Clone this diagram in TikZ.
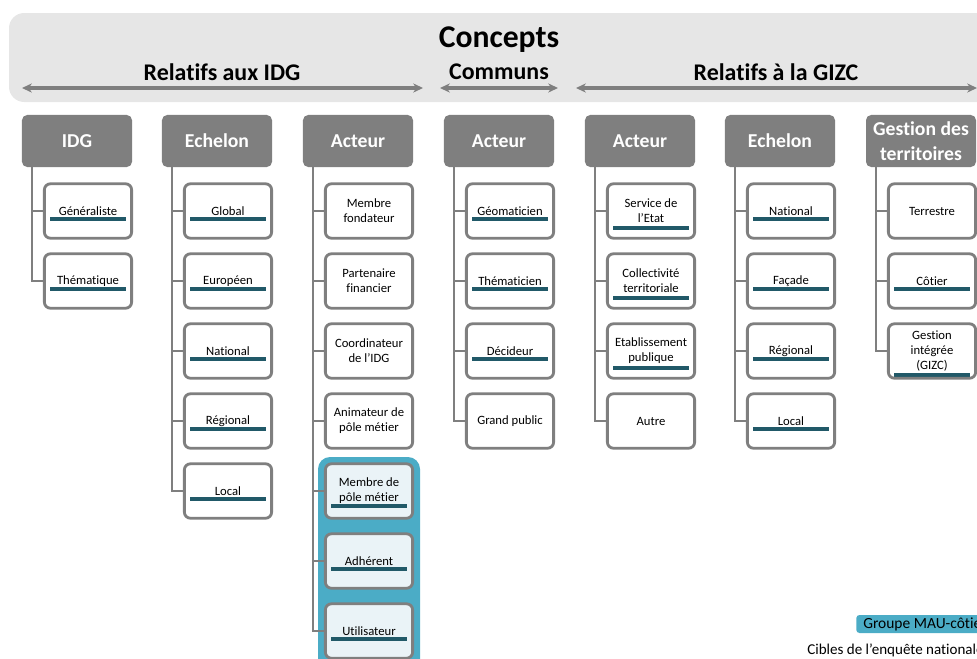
\documentclass[tikz,border=0pt]{standalone}
\usepackage{fontspec}
\setmainfont[Ligatures=NoCommon]{Carlito}
\usepackage{xcolor}
\usetikzlibrary{arrows.meta}
\definecolor{gristitre}{RGB}{127,127,127}
\definecolor{grisfond}{RGB}{230,230,230}
\definecolor{bleumau}{RGB}{75,172,198}
\definecolor{bleupale}{RGB}{234,243,247}
\definecolor{sarcelle}{RGB}{33,89,104}

\begin{document}
\begin{tikzpicture}[x=0.025cm,y=-0.025cm,>={Stealth[length=7pt,width=6.5pt]},
  titre/.style={fill=gristitre,rounded corners=0.13cm,minimum width=2.75cm,
    minimum height=1.3cm,align=center,text=white,inner sep=1pt,
    font=\fontsize{14}{17.5}\selectfont\bfseries},
  cible/.style={draw=gristitre,fill=white,line width=2pt,rounded corners=0.15cm,
    minimum width=2.18cm,minimum height=1.36cm,align=center,inner sep=1pt,
    font=\fontsize{9}{10.6}\selectfont},
  mau/.style={cible,fill=bleupale},
  souligne/.style={path picture={\fill[sarcelle,draw=none,sharp corners]
    ([xshift=-0.95cm,yshift=-#1]path picture bounding box.center) rectangle
    ([xshift=0.95cm,yshift=-#1-0.1cm]path picture bounding box.center);}},
  souligne/.default=0.15cm,
  groupe/.style={font=\fontsize{17}{20}\selectfont\bfseries},
  lien/.style={draw=gristitre,line width=2pt},
  fleche/.style={<->,gristitre,line width=2.2pt}]
  \useasboundingbox (0,0) rectangle (977,658);
  \clip (0,0) rectangle (977,658);
  % bandeau des concepts
  \fill[grisfond,rounded corners=0.38cm] (9,13) rectangle (1010,102);
  \node[font=\fontsize{22.5}{26}\selectfont\bfseries] (concepts) at (499,40) {Concepts};
  \node[groupe] (relidg) at (222,72) {Relatifs aux IDG};
  \node[groupe] (communs) at (499,72) {Communs};
  \node[groupe] (relgizc) at (776,72) {Relatifs à la GIZC};
  \coordinate (a1) at (22,88);  \coordinate (a2) at (423,88);
  \coordinate (b1) at (440,88); \coordinate (b2) at (558,88);
  \coordinate (g1) at (576,88); \coordinate (g2) at (977,88);
  \draw[fleche] (a1) -- (a2);
  \draw[fleche] (b1) -- (b2);
  \draw[fleche] (g1) -- (g2);
  % groupe MAU-cotier (fond bleu)
  \fill[bleumau,rounded corners=0.3cm] (318,457) rectangle (420,700);
  % en-tetes
  \node[titre] (h1) at (77,141) {IDG};
  \node[titre] (h2) at (217,141) {Echelon};
  \node[titre] (h3) at (358,141) {Acteur};
  \node[titre] (h4) at (499,141) {Acteur};
  \node[titre] (h5) at (640,141) {Acteur};
  \node[titre] (h6) at (780,141) {Echelon};
  \node[titre] (h7) at (921,141) {Gestion des\\territoires};
  % IDG
  \node[cible,souligne] (idg1) at (88,211) {Généraliste};
  \node[cible,souligne] (idg2) at (88,281) {Thématique};
  % Echelon (IDG)
  \node[cible,souligne] (ech1) at (228,211) {Global};
  \node[cible,souligne] (ech2) at (228,281) {Européen};
  \node[cible,souligne] (ech3) at (228,351) {National};
  \node[cible,souligne] (ech4) at (228,421) {Régional};
  \node[cible,souligne] (ech5) at (228,491) {Local};
  % Acteur (IDG)
  \node[cible] (act1) at (369,211) {Membre\\fondateur};
  \node[cible] (act2) at (369,281) {Partenaire\\financier};
  \node[cible] (act3) at (369,351) {Coordinateur\\de l’IDG};
  \node[cible] (act4) at (369,421) {Animateur de\\pôle métier};
  \node[mau,souligne=0.33cm] (act5) at (369,491) {Membre de\\pôle métier};
  \node[mau,souligne] (act6) at (369,561) {Adhérent};
  \node[mau,souligne] (act7) at (369,631) {Utilisateur};
  % Acteur (communs)
  \node[cible,souligne] (com1) at (510,211) {Géomaticien};
  \node[cible,souligne] (com2) at (510,281) {Thématicien};
  \node[cible,souligne] (com3) at (510,351) {Décideur};
  \node[cible] (com4) at (510,421) {Grand public};
  % Acteur (GIZC)
  \node[cible,souligne=0.375cm] (acg1) at (651,211) {Service de\\l’Etat};
  \node[cible,souligne=0.375cm] (acg2) at (651,281) {Collectivité\\territoriale};
  \node[cible,souligne=0.375cm] (acg3) at (651,351) {Etablissement\\publique};
  \node[cible] (acg4) at (651,421) {Autre};
  % Echelon (GIZC)
  \node[cible,souligne] (ecg1) at (791,211) {National};
  \node[cible,souligne] (ecg2) at (791,281) {Façade};
  \node[cible,souligne] (ecg3) at (791,351) {Régional};
  \node[cible,souligne] (ecg4) at (791,421) {Local};
  % Gestion des territoires
  \node[cible] (ges1) at (932,211) {Terrestre};
  \node[cible,souligne] (ges2) at (932,281) {Côtier};
  \node[cible,souligne=0.54cm] (ges3) at (932,351) {Gestion\\intégrée\\(GIZC)};
  % liens
  \foreach \c in {idg1,idg2}
    \draw[lien] ([xshift=-1.125cm]h1.south) |- (\c.west);
  \foreach \c in {ech1,ech2,ech3,ech4,ech5}
    \draw[lien] ([xshift=-1.125cm]h2.south) |- (\c.west);
  \foreach \c in {act1,act2,act3,act4,act5,act6,act7}
    \draw[lien] ([xshift=-1.125cm]h3.south) |- (\c.west);
  \foreach \c in {com1,com2,com3,com4}
    \draw[lien] ([xshift=-1.125cm]h4.south) |- (\c.west);
  \foreach \c in {acg1,acg2,acg3,acg4}
    \draw[lien] ([xshift=-1.125cm]h5.south) |- (\c.west);
  \foreach \c in {ecg1,ecg2,ecg3,ecg4}
    \draw[lien] ([xshift=-1.125cm]h6.south) |- (\c.west);
  \foreach \c in {ges1,ges2,ges3}
    \draw[lien] ([xshift=-1.125cm]h7.south) |- (\c.west);
  % legende
  \node[fill=bleumau,rounded corners=0.08cm,anchor=west,inner xsep=0.175cm,
        inner ysep=1pt,minimum height=0.45cm,font=\fontsize{11}{13}\selectfont]
        (legende) at (856,624) {Groupe MAU-côtier};
  \node[anchor=west,inner sep=0pt,font=\fontsize{10.7}{12.5}\selectfont]
        (enquete) at (807,650) {Cibles de l’enquête nationale};
\end{tikzpicture}
\end{document}
